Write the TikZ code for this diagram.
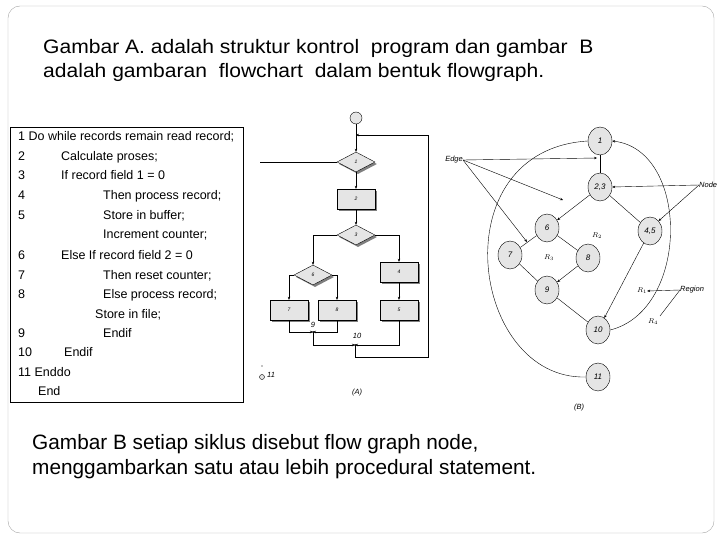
\documentclass[tikz,border=0pt]{standalone}
\usepackage{fontspec}
\setmainfont{Liberation Sans}
\usetikzlibrary{shapes.geometric,arrows.meta,shadows}
\begin{document}
\begin{tikzpicture}
[
    x=1pt, y=-1pt,
    every node/.style={inner sep=0pt},
    box/.style={draw, fill=gray!20, minimum width=38pt, minimum height=20pt,
        drop shadow={shadow xshift=2pt, shadow yshift=-2pt, fill=black}},
    decision/.style={draw, diamond, aspect=1.9, fill=gray!20, minimum width=38pt, minimum height=20pt,
        drop shadow={shadow xshift=2pt, shadow yshift=-2pt, fill=black}},
    gnode/.style={draw, ellipse, fill=gray!20, minimum width=24pt, minimum height=28pt,
        font=\itshape\fontsize{8}{9}\selectfont},
    lbl/.style={font=\itshape\fontsize{7.5}{9}\selectfont},
    arr/.style={-{Stealth[length=3pt,width=2.5pt]}, thin},
    codeline/.style={anchor=base west, font=\fontsize{12.5}{14}\selectfont},
    title/.style={anchor=base west, xscale=1.08, font=\fontsize{19.5}{22}\selectfont},
]
\useasboundingbox (0,0) rectangle (720,540);
\draw[rounded corners=12pt, gray!70] (8,6) rectangle (714,533);
% titles
\node[title] (title1) at (43,54) {Gambar A. adalah struktur kontrol\ \ program dan gambar\ \ B};
\node[title] (title2) at (43,78) {adalah gambaran\ \ flowchart\ \ dalam bentuk flowgraph.};
\node[anchor=base west, font=\fontsize{20.8}{24}\selectfont] (note1) at (32,449) {Gambar B setiap siklus disebut flow graph node,};
\node[anchor=base west, font=\fontsize{20.8}{24}\selectfont] (note2) at (32,474) {menggambarkan satu atau lebih procedural statement.};

% code listing
\draw (10,127) rectangle (243,402);
\foreach \n/\y/\x/\t in {1/141/18/{1 Do while records remain read record;},
    2/161/18/2, 3/180/18/3, 4/200/18/4, 5/219/18/5, 6/259/18/6, 7/279/18/7,
    8/298/18/8, 9/337/18/9, 10/356/18/10, 11/376/18/11 Enddo}
    \node[codeline] (num\n) at (\x,\y) {\t};
\foreach \y/\x/\t in {161/61/{Calculate proses;}, 180/61/{If record field 1 = 0},
    200/103/{Then process record;}, 219/103/{Store in buffer;}, 239/103/{Increment counter;},
    259/61/{Else If record field 2 = 0}, 279/103/{Then reset counter;},
    298/103/{Else process record;}, 318/95/{Store in file;}, 337/103/Endif,
    356/64/Endif, 395/38/End}
    \node[codeline] at (\x,\y) {\t};

% flowchart (A)
\node[draw, circle, fill=gray!20, minimum size=12pt] (start) at (356,118) {};
\node[decision] (d1) at (356,162) {\itshape\tiny 1};
\node[box] (b2) at (356,199) {\itshape\tiny 2};
\node[decision] (d3) at (356,235) {\itshape\tiny 3};
\node[decision] (d6) at (313,275) {\itshape\tiny 6};
\node[box] (b4) at (399,272) {\itshape\tiny 4};
\node[box] (b7) at (289,310) {\itshape\tiny 7};
\node[box] (b8) at (337,310) {\itshape\tiny 8};
\node[box] (b5) at (399,310) {\itshape\tiny 5};
\coordinate (j9) at (313,332);
\coordinate (j10) at (355,345);
\coordinate (top) at (356,135);
\node[lbl] at (313,325) {9};
\node[lbl] at (357,336) {10};
\fill (j9) circle (1pt) (j10) circle (1pt);
\coordinate (left) at (260,162);
\draw (left) -- (d1.west);
\draw (start) -- (top);
\draw[arr] (top) -- (d1);
\draw[arr] (d1) -- (b2);
\draw[arr] (b2) -- (d3);
\draw[arr] (d3.west) -| (d6.north);
\draw[arr] (d3.east) -| (b4.north);
\draw[arr] (b4) -- (b5);
\draw[arr] (d6.west) -| (b7.north);
\draw[arr] (d6.east) -| (b8.north);
\draw[arr] (b7.south) |- (j9);
\draw[arr] (b8.south) |- (j9);
\draw[arr] (j9) |- (j10);
\draw[arr] (b5.south) |- (j10);
\draw[arr] (j10) -- (355,357) -- (428,357) -- (428,135) -- (top);
\node[draw, circle, fill=gray!20, minimum size=5pt] (end) at (262,377) {};
\fill (262,366) circle (0.6pt);
\node[lbl, anchor=west] at (267,375) {11};
\node[lbl] at (357,393) {(A)};

% flowgraph (B)
\node[gnode] (g1) at (600,141) {1};
\node[gnode] (g23) at (600,187) {2,3};
\node[gnode] (g6) at (547,228) {6};
\node[gnode] (g45) at (650,231) {4,5};
\node[gnode] (g7) at (510,255) {7};
\node[gnode] (g8) at (588,258) {8};
\node[gnode] (g9) at (547,290) {9};
\node[gnode] (g10) at (598,330) {10};
\node[gnode] (g11) at (598,377) {11};
\draw (g1) -- (g23);
\draw[arr] (g23) -- (g6);
\draw (g23) -- (g45);
\draw (g6) -- (g7);
\draw (g6) -- (g8);
\draw (g7) -- (g9);
\draw[arr] (g8) -- (g9);
\draw (g9) -- (g10);
\draw[arr] (g45) -- (g10);
\draw (g11.west) .. controls (470,380) and (440,150) .. (g1.west);
\draw[arr] (g10.east) .. controls (690,310) and (690,150) .. (g1.east);
\node[lbl] at (597,236) {$R_2$};
\node[lbl] at (549,258) {$R_3$};
\node[lbl] (r1) at (642,291) {$R_1$};
\node[lbl] (r4) at (653,322) {$R_4$};
\node[lbl, anchor=east] (edge) at (463,160) {Edge};
\node[lbl, anchor=west] (nodel) at (699,185) {Node};
\node[lbl, anchor=west] (region) at (680,290) {Region};
\node[lbl] at (579,408) {(B)};
\draw[arr] (edge.east) -- (597,158);
\draw[arr] (edge.east) -- (563,200);
\draw[arr] (edge.east) -- (527,242);
\draw[arr] (nodel.west) -- (g23.east);
\draw[arr] (nodel.west) -- (g45.north east);
\draw[arr] (region.west) -- (r1.east);
\draw (region.west) -- (660,316);
\end{tikzpicture}
\end{document}
